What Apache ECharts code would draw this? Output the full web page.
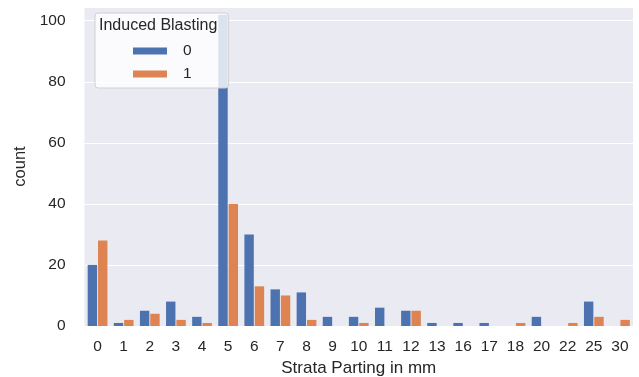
<!DOCTYPE html>
<html>
<head>
<meta charset="utf-8">
<script src="https://cdn.jsdelivr.net/npm/echarts@6/dist/echarts.min.js"></script>
<style>
html,body{margin:0;padding:0;background:#fff;}
#chart{width:639px;height:377px;}
</style>
</head>
<body>
<div id="chart"></div>
<script>
const categories = ['0','1','2','3','4','5','6','7','8','9','10','11','12','13','16','17','18','20','22','25','30'];
const blasting0 = [20,1,5,8,3,102,30,12,11,3,3,6,5,1,1,1,0,3,0,8,0];
const blasting1 = [28,2,4,2,1,40,13,10,2,0,1,0,5,0,0,0,1,0,1,3,2];
const yTicks = [0,20,40,60,80,100];
const seriesNames = ['0','1'];
const legendTitle = 'Induced Blasting';

const font = 'Liberation Sans, Arial, sans-serif';
const textColor = '#262626';
const chart = echarts.init(document.getElementById('chart'), null, {renderer:'canvas'});
chart.setOption({
  animation: false,
  backgroundColor: '#ffffff',
  grid: {left: 84.5, right: 6, top: 7, bottom: 51, show: true, backgroundColor: '#EAEAF2', borderWidth: 0, containLabel: false, outerBoundsMode: 'none'},
  xAxis: {
    type: 'category',
    data: categories,
    name: 'Strata Parting in mm',
    nameLocation: 'middle',
    nameGap: 34,
    nameTextStyle: {fontFamily: font, fontSize: 17, color: textColor},
    axisLine: {show: false},
    axisTick: {show: false},
    axisLabel: {fontFamily: font, fontSize: 15.5, color: textColor, margin: 13, interval: 0},
    splitLine: {show: false}
  },
  yAxis: {
    type: 'value',
    min: yTicks[0],
    max: 104.5,
    interval: 20,
    name: 'count',
    nameLocation: 'middle',
    nameGap: 49,
    nameTextStyle: {fontFamily: font, fontSize: 16.5, color: textColor},
    axisLine: {show: false},
    axisTick: {show: false},
    axisLabel: {fontFamily: font, fontSize: 15.5, color: textColor, margin: 19, showMaxLabel: false},
    splitLine: {show: true, lineStyle: {color: '#ffffff', width: 1.2}}
  },
  legend: {
    orient: 'vertical',
    left: 95,
    top: 13,
    padding: [30, 37, 6, 38],
    itemWidth: 34,
    itemHeight: 7,
    itemGap: 7,
    backgroundColor: 'rgba(255,255,255,0.8)',
    borderColor: '#cfcfd6',
    borderWidth: 1,
    borderRadius: 3,
    icon: 'rect',
    textStyle: {fontFamily: font, fontSize: 15.5, color: textColor, lineHeight: 16, padding: [0,0,0,11]},
    data: seriesNames
  },
  graphic: [{
    type: 'text',
    left: 99,
    top: 18,
    z: 100,
    style: {text: legendTitle, fontFamily: font, fontSize: 16, fill: textColor}
  }],
  series: [
    {name: seriesNames[0], type: 'bar', data: blasting0, barWidth: '36%', barGap: '10%', itemStyle: {color: '#4C72B0'}},
    {name: seriesNames[1], type: 'bar', data: blasting1, barWidth: '36%', barGap: '10%', itemStyle: {color: '#DD8452'}}
  ]
});
</script>
</body>
</html>
